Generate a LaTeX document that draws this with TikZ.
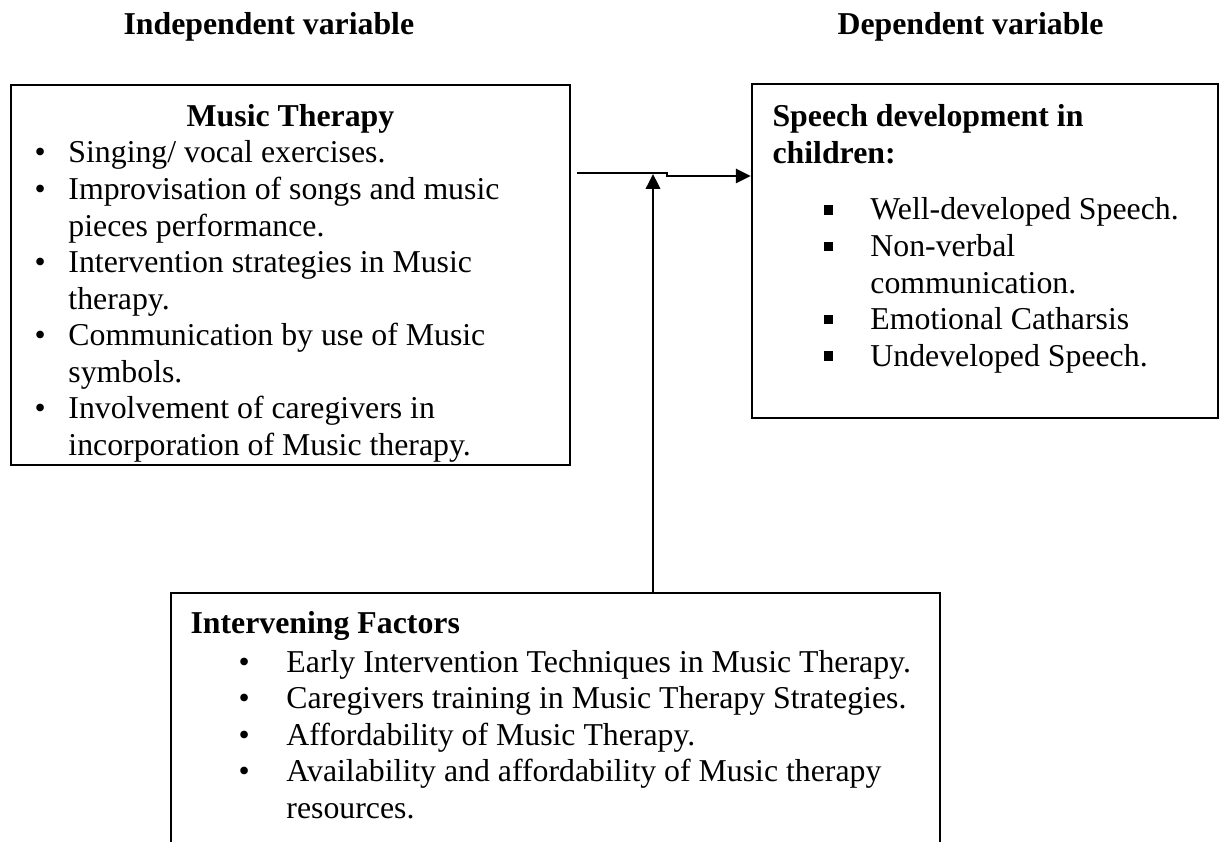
\documentclass[tikz,border=0pt]{standalone}
\usepackage{fontspec}
\setmainfont{Liberation Serif}
\usepackage{tikz}
\usetikzlibrary{
  arrows.meta,
  positioning,
  fit,
}

\tikzset{
  box/.style={draw, line width=1pt, inner sep=0pt},
  heading/.style={font=\fontsize{12pt}{13.8pt}\selectfont\bfseries, inner sep=0pt},
  itemlist/.style={font=\fontsize{12pt}{13.8pt}\selectfont, anchor=base west, inner sep=0pt},
  conn/.style={line width=0.8pt, -{Triangle[length=5.6pt,width=5.4pt]}},
}
\newcommand{\sqbul}{\rule[2pt]{3.6pt}{3.6pt}}

\begin{document}
\begin{tikzpicture}[x=0.37736pt, y=-0.37736pt]
  \useasboundingbox (0,0) rectangle (1230,842);
  \clip (0,0) rectangle (1230,842);

  % column titles
  \node[heading, anchor=base west] (indep) at (123,35) {Independent variable};
  \node[heading, anchor=base west] (dep) at (837,35) {Dependent variable};

  % the three boxes
  \node[box, fit={(11,85) (570,465)}] (mt) {};
  \node[box, fit={(752,84) (1218,418)}] (sd) {};
  \node[box, fit={(171,593) (940,900)}] (iv) {};

  % music therapy
  \node[heading, anchor=base] (mthead) at (290.5,127) {Music Therapy};
  \node[itemlist] (mtlist) at (34,163) {%
    \begin{tabular}[t]{@{}p{12.8pt}@{}l@{}}
      \textbullet & Singing/ vocal exercises.\\
      \textbullet & Improvisation of songs and music\\
                  & pieces performance.\\
      \textbullet & Intervention strategies in Music\\
                  & therapy.\\
      \textbullet & Communication by use of Music\\
                  & symbols.\\
      \textbullet & Involvement of caregivers in\\
                  & incorporation of Music therapy.
    \end{tabular}};

  % speech development
  \node[heading, anchor=base west] (sdhead) at (772,127) {%
    \begin{tabular}[t]{@{}l@{}}
      Speech development in\\
      children:
    \end{tabular}};
  \node[itemlist] (sdlist) at (823,220) {%
    \begin{tabular}[t]{@{}p{17.7pt}@{}l@{}}
      \sqbul & Well-developed Speech.\\
      \sqbul & Non-verbal\\
             & communication.\\
      \sqbul & Emotional Catharsis\\
      \sqbul & Undeveloped Speech.
    \end{tabular}};

  % intervening factors
  \node[heading, anchor=base west] (ivhead) at (190,633) {Intervening Factors};
  \node[itemlist] (ivlist) at (238,672) {%
    \begin{tabular}[t]{@{}p{18.1pt}@{}l@{}}
      \textbullet & Early Intervention Techniques in Music Therapy.\\
      \textbullet & Caregivers training in Music Therapy Strategies.\\
      \textbullet & Affordability of Music Therapy.\\
      \textbullet & Availability and affordability of Music therapy\\
                  & resources.
    \end{tabular}};

  % connectors
  \coordinate (hstart) at (577,173);
  \coordinate (hstep) at (667,173);
  \coordinate (hjog) at (667,176);
  \coordinate (vtip) at (653,174);
  \draw[conn] (hstart) -- (hstep) -- (hjog) -- (sd.west |- hjog);
  \draw[conn] (iv.north -| vtip) -- (vtip);
\end{tikzpicture}
\end{document}
